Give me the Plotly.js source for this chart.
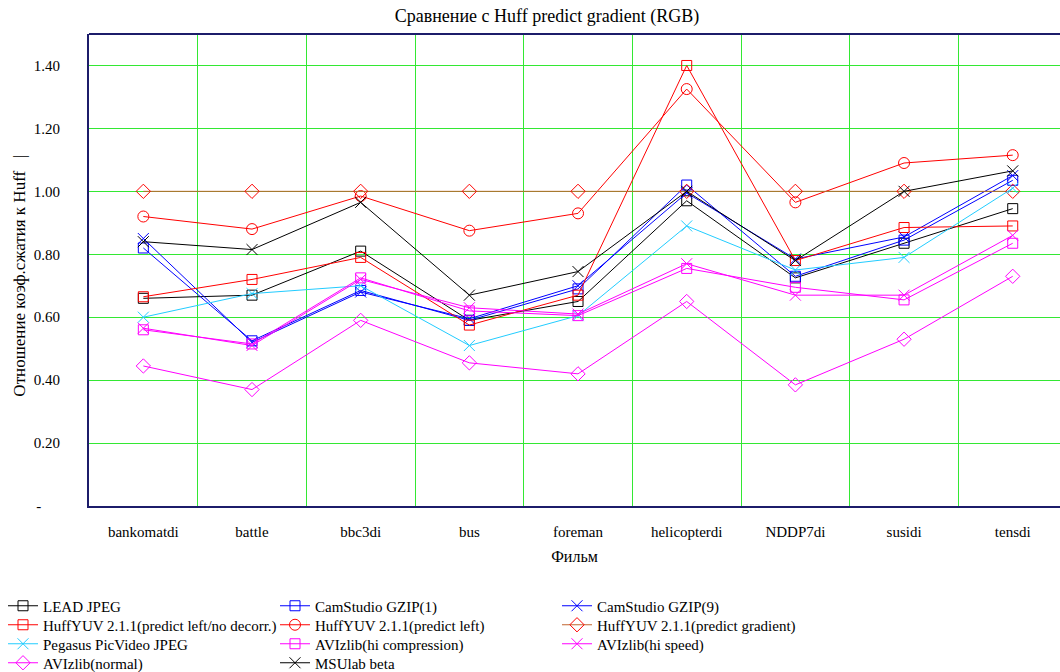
<!DOCTYPE html>
<html>
<head>
<meta charset="utf-8">
<script src="https://cdn.plot.ly/plotly-3.0.1.min.js"></script>
<style>html,body{margin:0;padding:0;background:#fff}#chart{width:1060px;height:672px}</style>
</head>
<body>
<div id="chart"></div>
<script>
const categories = ["bankomatdi","battle","bbc3di","bus","foreman","helicopterdi","NDDP7di","susidi","tensdi"];
const leadJpeg     = [0.66, 0.67, 0.81, 0.59, 0.65, 0.97, 0.725, 0.835, 0.945];
const camGzip1     = [0.82, 0.525, 0.685, 0.59, 0.69, 1.02, 0.73, 0.845, 1.035];
const camGzip9     = [0.85, 0.52, 0.68, 0.595, 0.70, 0.995, 0.785, 0.855, 1.05];
const huffNoDecorr = [0.665, 0.72, 0.79, 0.575, 0.67, 1.40, 0.78, 0.885, 0.89];
const huffLeft     = [0.92, 0.88, 0.985, 0.875, 0.93, 1.325, 0.965, 1.09, 1.115];
const huffGradient = [1.0, 1.0, 1.0, 1.0, 1.0, 1.0, 1.0, 1.0, 1.0];
const pegasus      = [0.60, 0.675, 0.70, 0.51, 0.605, 0.89, 0.75, 0.79, 1.01];
const aviHiComp    = [0.56, 0.515, 0.725, 0.62, 0.605, 0.755, 0.695, 0.655, 0.835];
const aviHiSpeed   = [0.565, 0.51, 0.72, 0.63, 0.61, 0.77, 0.67, 0.67, 0.86];
const aviNormal    = [0.445, 0.37, 0.59, 0.455, 0.42, 0.65, 0.385, 0.53, 0.73];
const msuBeta      = [0.84, 0.815, 0.965, 0.67, 0.745, 1.0, 0.78, 1.0, 1.065];
const seriesNames = ["LEAD JPEG","CamStudio GZIP(1)","CamStudio GZIP(9)","HuffYUV 2.1.1(predict left/no decorr.)","HuffYUV 2.1.1(predict left)","HuffYUV 2.1.1(predict gradient)","Pegasus PicVideo JPEG","AVIzlib(hi compression)","AVIzlib(hi speed)","AVIzlib(normal)","MSUlab beta"];
const yTickVals = [0, 0.2, 0.4, 0.6, 0.8, 1.0, 1.2, 1.4];
const yTickText = ["-\u00A0\u00A0\u00A0\u00A0\u00A0", "0.20", "0.40", "0.60", "0.80", "1.00", "1.20", "1.40"];
const yTitleText = "Отношение коэф.сжатия к Huff \u00A0 |";

const seriesData = [leadJpeg, camGzip1, camGzip9, huffNoDecorr, huffLeft, huffGradient, pegasus, aviHiComp, aviHiSpeed, aviNormal, msuBeta];
const styles = [
  {c:"#000000", lc:"#000000", s:"square-open", z:10},
  {c:"#0000FF", lc:"#0000FF", s:"square-open", z:10},
  {c:"#0000FF", lc:"#0000FF", s:"x-thin-open", z:11},
  {c:"#FF0000", lc:"#FF0000", s:"square-open", z:10},
  {c:"#FF0000", lc:"#FF0000", s:"circle-open", z:11},
  {c:"#FF0000", lc:"#C0642F", s:"diamond-open", z:11},
  {c:"#22CCFF", lc:"#22CCFF", s:"x-thin-open", z:11},
  {c:"#FF00FF", lc:"#FF00FF", s:"square-open", z:10},
  {c:"#FF00FF", lc:"#FF00FF", s:"x-thin-open", z:11},
  {c:"#FF00FF", lc:"#FF00FF", s:"diamond-open", z:11},
  {c:"#000000", lc:"#000000", s:"x-thin-open", z:11}
];

const font = "Liberation Serif, Times New Roman, serif";
// legend grid: 3 columns, 4 rows (pixel positions in the container)
const colX = [3, 275, 557];
const rowY = [606, 625, 644, 663];

const traces = seriesData.map((d, i) => ({
  type: "scatter",
  mode: "lines+markers",
  name: seriesNames[i],
  legend: i === 0 ? "legend" : "legend" + (i + 1),
  x: categories,
  y: d,
  line: {color: styles[i].lc, width: 1},
  marker: {symbol: styles[i].s, size: styles[i].z, color: styles[i].c, line: {color: styles[i].c, width: 1}}
}));

const layout = {
  width: 1060, height: 672,
  paper_bgcolor: "#fff", plot_bgcolor: "#fff",
  margin: {l: 89, r: 0, t: 34, b: 166, autoexpand: false},
  font: {family: font, size: 15, color: "#000"},
  title: {text: "Сравнение с Huff predict gradient (RGB)", font: {family: font, size: 18, color: "#000"},
          xref: "container", x: 0.516, xanchor: "center", yref: "container", y: 0.976, yanchor: "middle"},
  xaxis: {
    type: "category", range: [-0.5, 8.435], tickson: "boundaries", ticks: "",
    showgrid: true, gridcolor: "#33E833", gridwidth: 1,
    showline: true, linecolor: "#1C1C6A", linewidth: 2, mirror: false,
    tickfont: {family: font, size: 15, color: "#000"}, ticklabelstandoff: 11, tickangle: 0,
    title: {text: "Фильм", font: {family: font, size: 16, color: "#000"}, standoff: 12},
    zeroline: false, fixedrange: true
  },
  yaxis: {
    range: [0, 1.5], tickvals: yTickVals, ticktext: yTickText, ticks: "",
    showgrid: true, gridcolor: "#33E833", gridwidth: 1,
    showline: true, linecolor: "#1C1C6A", linewidth: 2, mirror: false,
    tickfont: {family: font, size: 15, color: "#000"}, ticklabelstandoff: 24,
    zeroline: false, fixedrange: true
  },
  annotations: [
    {text: yTitleText, xref: "paper", yref: "paper", x: -0.0711, y: 0.488, xanchor: "center", yanchor: "middle",
     textangle: -90, showarrow: false, font: {family: font, size: 17, color: "#000"}}
  ],
  shapes: [
    {type: "line", xref: "paper", yref: "paper", x0: 0, x1: 1, y0: 1, y1: 1, line: {color: "#1C1C6A", width: 2}}
  ],
  showlegend: true,
  hovermode: false
};

seriesData.forEach((d, i) => {
  const key = i === 0 ? "legend" : "legend" + (i + 1);
  layout[key] = {
    xref: "container", yref: "container",
    x: colX[i % 3] / 1060, y: 1 - rowY[Math.floor(i / 3)] / 672,
    xanchor: "left", yanchor: "middle",
    font: {family: font, size: 15, color: "#000"},
    bgcolor: "rgba(0,0,0,0)", borderwidth: 0
  };
});

Plotly.newPlot("chart", traces, layout, {staticPlot: true, displayModeBar: false});
</script>
</body>
</html>
